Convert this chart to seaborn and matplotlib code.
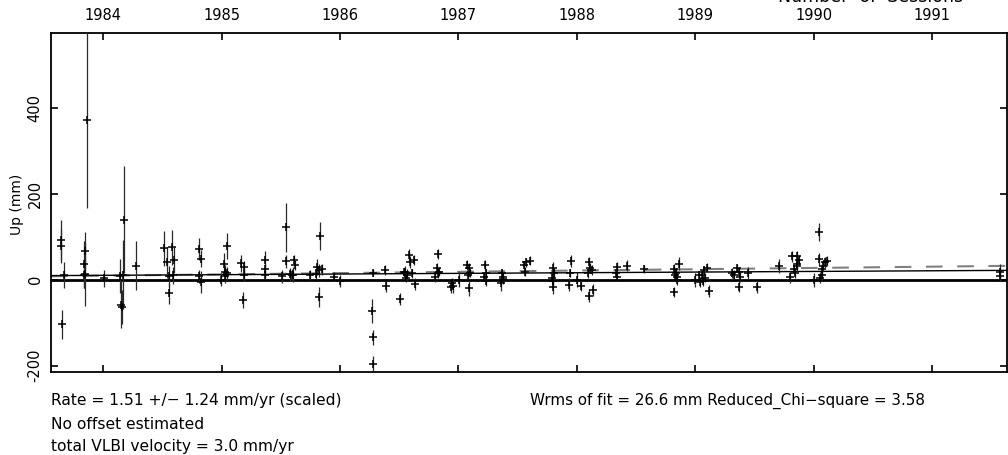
import numpy as np
import pandas as pd
import matplotlib
matplotlib.use("Agg")
import matplotlib.pyplot as plt
import seaborn as sns

# ---------------- data ----------------
years = [
    1983.645, 1983.639, 1983.665, 1983.651,
    1983.848, 1983.834, 1983.848, 1983.840, 1983.865,
    1984.003,
    1984.144, 1984.152, 1984.156, 1984.171, 1984.163,
    1984.279,
    1984.515, 1984.538, 1984.580, 1984.594, 1984.552, 1984.557, 1984.586,
    1984.811, 1984.822, 1984.808, 1984.828,
    1984.997, 1985.022, 1985.045, 1985.030, 1985.045, 1985.030,
    1985.166, 1985.185, 1985.190, 1985.177,
    1985.362, 1985.368, 1985.368,
    1985.509, 1985.543, 1985.543, 1985.577, 1985.600, 1985.607, 1985.616, 1985.592,
    1985.748, 1985.805, 1985.820, 1985.833, 1985.824, 1985.797, 1985.845,
    1985.945, 1985.999,
    1986.269, 1986.278, 1986.278, 1986.278,
    1986.382, 1986.388,
    1986.508,
    1986.579, 1986.593, 1986.621, 1986.551, 1986.565, 1986.607, 1986.629, 1986.560, 1986.537,
    1986.804, 1986.823, 1986.818, 1986.838, 1986.823,
    1986.945, 1986.952, 1986.938, 1987.001,
    1987.072, 1987.091, 1987.091, 1987.100, 1987.077,
    1987.226, 1987.235, 1987.218, 1987.232,
    1987.367, 1987.376, 1987.360, 1987.380,
    1987.550, 1987.572, 1987.600, 1987.558,
    1987.798, 1987.805, 1987.790, 1987.798, 1987.795,
    1987.953, 1987.936, 1987.938, 1988.003, 1988.035,
    1988.099, 1988.113, 1988.127, 1988.090, 1988.105, 1988.136,
    1988.339, 1988.333, 1988.339, 1988.423, 1988.563,
    1988.859, 1988.817, 1988.831, 1988.845, 1988.817, 1988.838, 1988.845,
    1989.000, 1989.028,
    1989.070, 1989.056, 1989.084, 1989.065, 1989.112, 1989.098, 1989.042,
    1989.352, 1989.366, 1989.324, 1989.380, 1989.366, 1989.310,
    1989.442, 1989.521, 1989.704,
    1989.817, 1989.855, 1989.872, 1989.831, 1989.845, 1989.803, 1989.859, 1989.859,
    1990.005,
    1990.041, 1990.049, 1990.083, 1990.069, 1990.097, 1990.111, 1990.074, 1990.055,
    1991.570, 1991.575,
]
up_mm = [
    92, 78, 11, -104,
    67, 36, 13, 10, 372,
    3,
    8, -58, -63, 140, 12,
    33,
    73, 40, 75, 46, 8, -32, 10,
    71, 49, 8, -5,
    0, 36, 79, 19, 15, 8,
    38, 29, 12, -47,
    46, 26, 11,
    8, 122, 43, 13, 12, 46, 34, 12,
    11, 30, 22, 102, -40, 14, 24,
    7, -3,
    -73, -134, -195, 16,
    22, -15,
    -45,
    57, 42, 46, 19, 12, 15, -11, 5, 17,
    7, 59, 27, 19, 15,
    -8, -15, -18, 0,
    34, 27, -20, 16, 11,
    34, 15, 7, -2,
    15, 7, -8, 1,
    34, 40, 44, 19,
    27, 15, 4, -2, -18,
    44, -12, 16, 0, -15,
    40, 27, 22, 15, -37, -24,
    30, 16, 7, 33, 25,
    37, 24, 12, 0, -28, 16, 7,
    0, 11,
    22, 12, 5, -2, -26, 28, -5,
    27, 19, 12, 7, -16, 15,
    16, -16, 32,
    54, 54, 46, 24, 15, 6, 31, 36,
    0,
    112, 48, 33, 24, 40, 44, 12, 5,
    19, 9,
]
sigma_mm = [
    47, 40, 30, 33,
    45, 55, 75, 30, 205,
    20,
    40, 55, 40, 125, 80,
    57,
    40, 35, 40, 30, 25, 25, 20,
    25, 20, 15, 25,
    15, 25, 30, 15, 15, 15,
    20, 15, 15, 18,
    20, 10, 10,
    15, 57, 15, 15, 18, 12, 12, 12,
    12, 18, 15, 33, 23, 12, 12,
    10, 15,
    28, 17, 18, 8,
    12, 13,
    13,
    14, 14, 12, 12, 12, 10, 14, 10, 10,
    12, 12, 12, 10, 10,
    12, 15, 12, 18,
    12, 12, 18, 10, 10,
    12, 10, 10, 12,
    10, 10, 18, 10,
    10, 10, 10, 10,
    15, 12, 12, 12, 15,
    14, 15, 10, 18, 12,
    13, 12, 12, 12, 15, 15,
    12, 10, 10, 12, 10,
    15, 12, 12, 12, 12, 12, 10,
    16, 10,
    10, 10, 10, 12, 14, 10, 12,
    10, 10, 10, 12, 12, 12,
    14, 14, 17,
    12, 12, 12, 10, 12, 14, 10, 10,
    16,
    21, 14, 12, 12, 12, 12, 12, 12,
    18, 12,
]

year_ticks = [1984, 1985, 1986, 1987, 1988, 1989, 1990, 1991]
y_ticks = [-200, 0, 200, 400]

fit_rate = 1.51          # mm/yr
fit_at_start = 9.5       # mm at left edge
vlbi_rate = 3.0          # mm/yr
vlbi_at_start = 8.0      # mm at left edge

x_min, x_max = 1983.558, 1991.633
y_min, y_max = -214.7, 573.8

df = pd.DataFrame({"year": years, "up": up_mm, "sigma": sigma_mm})

# ---------------- figure ----------------
sns.set_style("ticks")
plt.rcParams["font.family"] = ["DejaVu Sans"]
plt.rcParams["text.color"] = "black"
plt.rcParams["xtick.color"] = "black"
plt.rcParams["ytick.color"] = "black"
plt.rcParams["axes.labelcolor"] = "black"

fig = plt.figure(figsize=(10.08, 4.55), dpi=100)
ax = fig.add_axes([51 / 1008, 1 - 372 / 455, (1007 - 51) / 1008, (372 - 33) / 455])

ax.set_xlim(x_min, x_max)
ax.set_ylim(y_min, y_max)

# zero line
ax.axhline(0, color="black", lw=2.0, zorder=2)

# model lines
xs = np.array([x_min, x_max])
ax.plot(xs, vlbi_at_start + vlbi_rate * (xs - x_min), color="#808080",
        lw=1.5, dashes=(8, 7), zorder=2)
ax.plot(xs, fit_at_start + fit_rate * (xs - x_min), color="black", lw=1.0, zorder=3)

# error bars + markers
ax.errorbar(df["year"], df["up"], yerr=df["sigma"], fmt="none",
            ecolor="#2a2a2a", elinewidth=0.9, capsize=0, zorder=3)
sns.scatterplot(data=df, x="year", y="up", marker="+", s=40, color="black",
                linewidth=1.1, ax=ax, legend=False, zorder=4)

# axes styling
for sp in ax.spines.values():
    sp.set_linewidth(1.3)
    sp.set_color("black")

ax.set_xticks(year_ticks)
ax.set_xticklabels([str(y) for y in year_ticks])
ax.set_yticks(y_ticks)
ax.set_yticklabels([str(v) for v in y_ticks], rotation=90, va="center")
ax.tick_params(axis="both", direction="in", length=5, width=1.2, color="black",
               labelcolor="black", top=True, right=True, labeltop=True,
               labelbottom=False, labelleft=True, labelright=False, labelsize=10.5)
ax.tick_params(axis="x", pad=7)
ax.tick_params(axis="y", pad=6)
ax.set_xlabel("")
ax.set_ylabel("")

fig.text(17 / 1008, 1 - 204 / 455, "Up (mm)", rotation=90, ha="center",
         va="center", fontsize=10, color="black")

# title sits mostly above the top edge in the reference (only its foot shows)
fig.text(871 / 1008, 1 - 2 / 455, "Number  of  Sessions", ha="center",
         va="baseline", fontsize=12.5, color="black")

fs = 11.2
fig.text(51 / 1008, 1 - 405 / 455, "Rate = 1.51 +/\u2212 1.24 mm/yr (scaled)",
         ha="left", va="baseline", fontsize=fs, color="black")
fig.text(51 / 1008, 1 - 429 / 455, "No offset estimated",
         ha="left", va="baseline", fontsize=fs, color="black")
fig.text(51 / 1008, 1 - 451 / 455, "total VLBI velocity = 3.0 mm/yr",
         ha="left", va="baseline", fontsize=fs, color="black")
fig.text(530 / 1008, 1 - 405 / 455,
         "Wrms of fit = 26.6 mm Reduced_Chi\u2212square = 3.58",
         ha="left", va="baseline", fontsize=10.9, color="black")

fig.savefig("out.png", dpi=100, facecolor="white")
